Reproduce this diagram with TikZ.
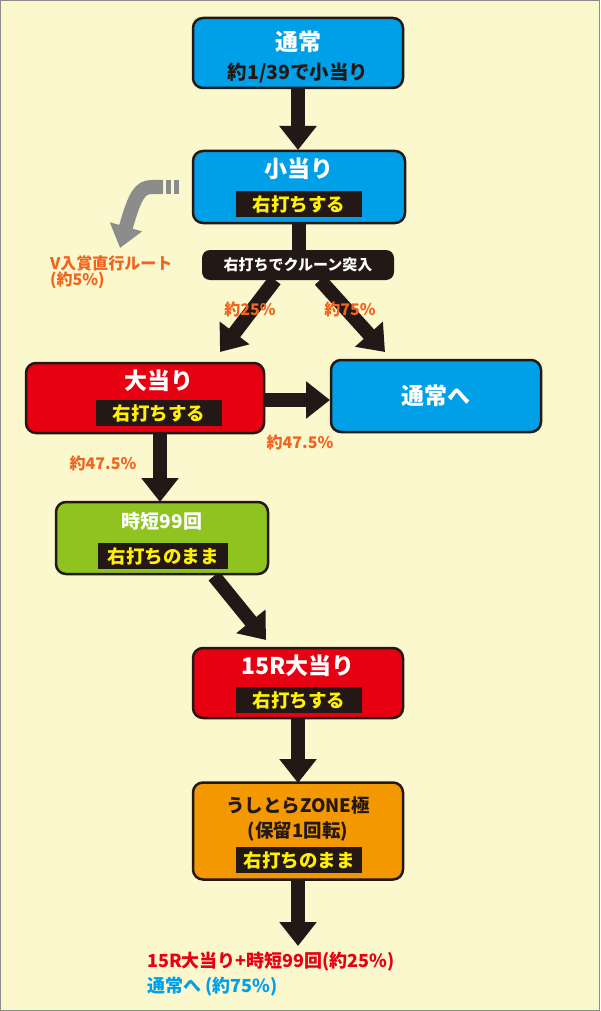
\documentclass[tikz,border=0pt]{standalone}
\usepackage{fontspec}
\setmainfont{Noto Sans CJK JP}
\usetikzlibrary{arrows.meta}
\definecolor{bg}{HTML}{FCF8CD}
\definecolor{dk}{HTML}{231815}
\definecolor{bl}{HTML}{00A0E9}
\definecolor{rd}{HTML}{E60012}
\definecolor{gr}{HTML}{8FC31F}
\definecolor{og}{HTML}{F39800}
\definecolor{tx}{HTML}{F0641E}
\definecolor{ye}{HTML}{FFF100}
\definecolor{gy}{HTML}{8C8C8C}
\begin{document}
\begin{tikzpicture}[x=1pt,y=-1pt,font=\bfseries,
 box/.style={draw=dk,line width=2.5pt,rounded corners=10pt,minimum width=#1,inner sep=0pt},
 lab/.style={fill=dk,text=ye,font=\bfseries\fontsize{18.5}{18.5}\selectfont,minimum width=126pt,minimum height=26pt,inner sep=0pt},
 ttl/.style={font=\bfseries\fontsize{23}{23}\selectfont},
 arr/.style={dk,line width=14pt,-{Triangle[width=36pt,length=24pt]}},
 pct/.style={text=tx,font=\bfseries\fontsize{16}{16}\selectfont}]
\fill[bg] (0,0) rectangle (600,1011);
\draw[gy,line width=1pt] (0.5,0.5) rectangle (599.5,1010.5);
% arrows
\draw[arr] (298,88) -- (298,150);
\draw[dk,line width=14pt] (299,223) -- (299,252);
\draw[arr] (275,280) -- (220,352);
\draw[arr] (320,280) -- (385,352);
\draw[arr] (264,400) -- (330,400);
\draw[arr] (160,433) -- (160,502);
\draw[arr] (214,576) -- (266,640);
\draw[arr] (298,718) -- (298,783);
\draw[arr] (298,880) -- (298,946);
% boxes
\node[box=210pt,fill=bl,minimum height=70pt] (n1) at (298,53) {};
\node[ttl,text=white] at (298,42) {通常};
\node[font=\bfseries\fontsize{19.5}{19.5}\selectfont,text=dk] at (298,73) {約1/39で小当り};
\node[box=212pt,fill=bl,minimum height=72pt] (n2) at (299,187) {};
\node[ttl,text=white] at (299,169) {小当り};
\node[lab] at (299,204) {右打ちする};
\node[fill=dk,text=white,rounded corners=8pt,minimum width=192pt,minimum height=30pt,inner sep=0pt,font=\bfseries\fontsize{15}{15}\selectfont] (k) at (298,265) {右打ちでクルーン突入};
\node[box=238pt,fill=rd,minimum height=70pt] (n3) at (145,398) {};
\node[ttl,text=white] at (159,381) {大当り};
\node[lab] at (159,413) {右打ちする};
\node[box=210pt,fill=bl,minimum height=72pt] (n4) at (436,396) {};
\node[ttl,text=white] at (436,396) {通常へ};
\node[box=212pt,fill=gr,minimum height=72pt] (n5) at (162,538) {};
\node[font=\bfseries\fontsize{19}{19}\selectfont,text=white] at (162,521) {時短99回};
\node[lab,minimum width=130pt] at (163,556) {右打ちのまま};
\node[box=210pt,fill=rd,minimum height=70pt] (n6) at (298,683) {};
\node[ttl,text=white] at (298,666) {15R大当り};
\node[lab] at (299,700) {右打ちする};
\node[box=210pt,fill=og,minimum height=97pt] (n7) at (298,831) {};
\node[font=\bfseries\fontsize{18.5}{18.5}\selectfont,text=dk] at (298,805) {うしとらZONE極};
\node[font=\bfseries\fontsize{18.5}{18.5}\selectfont,text=dk] at (298,831) {(保留1回転)};
\node[lab] at (299,860) {右打ちのまま};
% gray arrow
\fill[gy] (166,180) rectangle (171,194);
\fill[gy] (174,180) rectangle (179,194);
\draw[gy,line width=14pt,-{Triangle[width=32pt,length=22pt]}] (163,187) -- (152,187) .. controls (140,187) and (135,195) .. (120,248);
% texts
\node[pct,align=left,anchor=north west,inner sep=0pt] (v) at (50,256) {V入賞直行ルート\\(約5\%)};
\node[pct] (p1) at (250,309) {約25\%};
\node[pct] (p2) at (350,309) {約75\%};
\node[pct] (p3) at (300,442) {約47.5\%};
\node[pct] (p4) at (103,463) {約47.5\%};
\node[anchor=west,text=rd,font=\bfseries\fontsize{18}{18}\selectfont,inner sep=0pt] (r1) at (147,962) {15R大当り+時短99回(約25\%)};
\node[anchor=west,text=bl,font=\bfseries\fontsize{18}{18}\selectfont,inner sep=0pt] (r2) at (147,987) {通常へ (約75\%)};
\end{tikzpicture}
\end{document}
